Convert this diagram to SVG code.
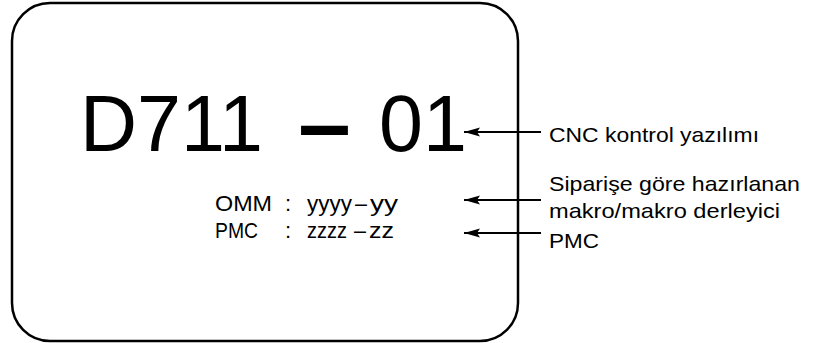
<svg xmlns="http://www.w3.org/2000/svg" width="818" height="343" viewBox="0 0 818 343">
<style>
  text { font-family: "Liberation Sans", Arial, sans-serif; fill: #000; }
  .big { font-size: 79px; }
  .small { font-size: 22px; }
  .lbl { font-size: 21px; }
  .conn { stroke: #000; stroke-width: 2; fill: none; }
  .frame { stroke: #000; stroke-width: 2.5; fill: #fff; }
</style>
<defs>
  <marker id="ah" markerUnits="userSpaceOnUse" markerWidth="18" markerHeight="12" refX="16" refY="5" orient="auto">
    <path d="M0,0.5 L16,5 L0,9.5 L3,5 Z" fill="#000"/>
  </marker>
</defs>
<g id="panel">
  <rect class="frame" x="12" y="3" width="506" height="338" rx="38" ry="38"/>
</g>
<g id="version">
  <text class="big" x="80" y="151">D711</text>
  <text class="big" x="303" y="151" stroke="#000" stroke-width="4" textLength="43" lengthAdjust="spacingAndGlyphs">–</text>
  <text class="big" x="379" y="151">01</text>
</g>
<g id="omm">
  <text class="small" x="215" y="211" textLength="57" lengthAdjust="spacingAndGlyphs">OMM</text>
  <text class="small" x="285" y="211">:</text>
  <text class="small" x="307" y="211" textLength="45" lengthAdjust="spacingAndGlyphs">yyyy</text>
  <text class="small" x="355" y="211" textLength="12" lengthAdjust="spacingAndGlyphs">–</text>
  <text class="small" x="370" y="211" textLength="28" lengthAdjust="spacingAndGlyphs">yy</text>
</g>
<g id="pmc">
  <text class="small" x="215" y="238" textLength="43" lengthAdjust="spacingAndGlyphs">PMC</text>
  <text class="small" x="285" y="238">:</text>
  <text class="small" x="307" y="238" textLength="40" lengthAdjust="spacingAndGlyphs">zzzz</text>
  <text class="small" x="354" y="238" textLength="12" lengthAdjust="spacingAndGlyphs">–</text>
  <text class="small" x="369" y="238" textLength="25" lengthAdjust="spacingAndGlyphs">zz</text>
</g>
<g id="label-cnc">
  <text class="lbl" x="549" y="142" textLength="210" lengthAdjust="spacingAndGlyphs">CNC kontrol yazılımı</text>
</g>
<g id="label-makro">
  <text class="lbl" x="549" y="191" textLength="251" lengthAdjust="spacingAndGlyphs">Siparişe göre hazırlanan</text>
  <text class="lbl" x="549" y="218" textLength="231" lengthAdjust="spacingAndGlyphs">makro/makro derleyici</text>
</g>
<g id="label-pmc">
  <text class="lbl" x="549" y="248" textLength="50" lengthAdjust="spacingAndGlyphs">PMC</text>
</g>
<g id="connectors">
  <line class="conn" x1="541" y1="132" x2="464" y2="132" marker-end="url(#ah)"/>
  <line class="conn" x1="541" y1="200" x2="464" y2="200" marker-end="url(#ah)"/>
  <line class="conn" x1="541" y1="233" x2="464" y2="233" marker-end="url(#ah)"/>
</g>
</svg>
